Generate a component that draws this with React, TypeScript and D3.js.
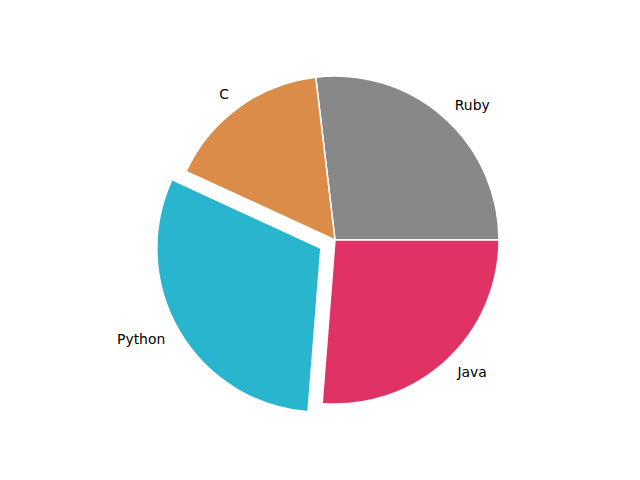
import React from "react";
import * as d3 from "d3";

const labels = ["Ruby", "C", "Python", "Java"];
const sizes = [215, 130, 245, 210];
const colors = ["#888888", "#db8c48", "#29b5ce", "#e03265"];
const explode = [0, 0, 0.1, 0];

export default function App() {
  const W = 640, H = 480;
  const cx = 335, cy = 240, R = 164;
  const total = d3.sum(sizes);
  // matplotlib-style: start at 0deg (3 o'clock), counterclockwise
  const angScale = d3.scaleLinear().domain([0, total]).range([0, 2 * Math.PI]);
  const cum = d3.cumsum(sizes);
  const wedges = sizes.map((v, i) => {
    const a0 = angScale(i === 0 ? 0 : cum[i - 1]);
    const a1 = angScale(cum[i]);
    return { a0, a1, i };
  });
  // convert math angle (ccw from +x) to d3 angle (cw from 12 o'clock)
  const toD3 = (a: number) => Math.PI / 2 - a;
  const arcGen = d3.arc<any>().innerRadius(0).outerRadius(R);
  return (
    <svg width={W} height={H} style={{ position: "absolute", left: 0, top: 0 }}>
      <rect width={W} height={H} fill="white" />
      {wedges.map(({ a0, a1, i }) => {
        const mid = (a0 + a1) / 2;
        const off = explode[i] * R;
        const dx = off * Math.cos(mid), dy = -off * Math.sin(mid);
        const path = arcGen({ startAngle: toD3(a1), endAngle: toD3(a0) }) as string;
        const lr = 1.1 * R + off;
        const lx = cx + lr * Math.cos(mid);
        const ly = cy - lr * Math.sin(mid);
        return (
          <g key={labels[i]}>
            <path d={path} transform={`translate(${cx + dx},${cy + dy})`} fill={colors[i]} stroke="white" strokeWidth={1.5} strokeLinejoin="round" />
            <text x={lx} y={ly} dy="0.35em" textAnchor={Math.cos(mid) >= 0 ? "start" : "end"}
              fontFamily="DejaVu Sans" fontSize={13.9} fill="black">{labels[i]}</text>
          </g>
        );
      })}
    </svg>
  );
}
